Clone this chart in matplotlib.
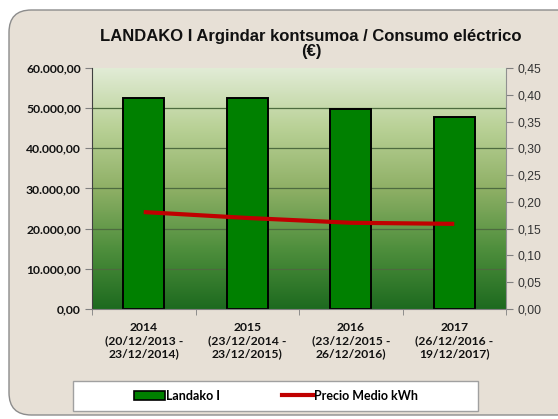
import matplotlib
matplotlib.use("Agg")
import matplotlib.pyplot as plt
import numpy as np
from matplotlib.colors import LinearSegmentedColormap
from matplotlib.patches import FancyBboxPatch, Patch, Rectangle
from matplotlib.lines import Line2D

categories = ["2014\n(20/12/2013 -\n23/12/2014)",
              "2015\n(23/12/2014 -\n23/12/2015)",
              "2016\n(23/12/2015 -\n26/12/2016)",
              "2017\n(26/12/2016 -\n19/12/2017)"]
consumo = [52500, 52650, 49750, 47850]
precio = [0.181, 0.170, 0.161, 0.159]
left_ticks = [0, 10000, 20000, 30000, 40000, 50000, 60000]
left_labels = ["0,00", "10.000,00", "20.000,00", "30.000,00", "40.000,00", "50.000,00", "60.000,00"]
right_ticks = [0.0, 0.05, 0.10, 0.15, 0.20, 0.25, 0.30, 0.35, 0.40, 0.45]
right_labels = ["0,00", "0,05", "0,10", "0,15", "0,20", "0,25", "0,30", "0,35", "0,40", "0,45"]
title = "LANDAKO I Argindar kontsumoa / Consumo eléctrico\n(€)"

W, H = 558, 419
fig = plt.figure(figsize=(W / 100, H / 100), dpi=100)
fig.patch.set_facecolor("white")

# rounded beige background
bg = FancyBboxPatch((9 / W, 4 / H), 600 / W, 405 / H,
                    boxstyle="round,pad=0,rounding_size=0.04",
                    transform=fig.transFigure, facecolor="#e7e0d6",
                    edgecolor="#8c8c8c", linewidth=1.0, zorder=0,
                    mutation_aspect=W / H)
fig.patches.append(bg)

ax = fig.add_axes([92 / W, (H - 309) / H, 414 / W, 241 / H])
ax.set_zorder(1)
ax.set_xlim(-0.5, 3.5)
ax.set_ylim(0, 60000)

cmap = LinearSegmentedColormap.from_list(
    "g", ["#1d6a1f", "#4f8f3d", "#8fb066", "#b9d196", "#e2ecd7"])
grad = np.linspace(0, 1, 256).reshape(-1, 1)
ax.imshow(grad, extent=(-0.5, 3.5, 0, 60000), origin="lower", aspect="auto",
          cmap=cmap, zorder=0, interpolation="bicubic")
ax.set_xlim(-0.5, 3.5)
ax.set_ylim(0, 60000)

for t in left_ticks[1:-1]:
    ax.axhline(t, color="#4d6b3f", linewidth=0.9, zorder=1)

x = np.arange(len(categories))
ax.bar(x, consumo, width=0.4, color="#008000", edgecolor="black",
       linewidth=1.4, zorder=2)

ax.set_yticks(left_ticks)
ax.set_yticklabels(left_labels, fontfamily="Lato", fontweight="bold",
                   fontsize=8.7, color="#111111")
ax.set_xticks(x)
ax.set_xticklabels(categories, fontfamily="Lato", fontweight="bold",
                   fontsize=8.7, color="#111111", linespacing=1.25)
ax.set_xticks(np.arange(-0.5, 4.0, 1.0), minor=True)
ax.tick_params(axis="x", which="major", length=0, pad=9)
ax.tick_params(axis="x", which="minor", length=4, color="#808080", direction="out")
ax.tick_params(axis="y", length=5, color="#808080", direction="out", pad=3)
for s in ["top", "right"]:
    ax.spines[s].set_visible(False)
ax.spines["left"].set_color("#404040")
ax.spines["bottom"].set_color("#808080")

ax2 = ax.twinx()
ax2.set_ylim(0, 0.45)
ax2.plot(x, precio, color="#c00000", linewidth=3, zorder=3,
         solid_capstyle="butt")
ax2.set_yticks(right_ticks)
ax2.set_yticklabels(right_labels, fontfamily="Liberation Sans",
                    fontsize=8.7, color="#333333")
ax2.tick_params(axis="y", length=5, color="#808080", direction="out", pad=3)
for s in ["top", "left", "bottom"]:
    ax2.spines[s].set_visible(False)
ax2.spines["right"].set_color("#909090")

fig.text(311 / W, 1 - 44 / H, title, ha="center", va="center",
         fontfamily="Liberation Sans", fontweight="bold", fontsize=12,
         color="#111111", linespacing=1.05)

# legend box
fig.add_artist(Rectangle((73 / W, (H - 411) / H), 405 / W, 30 / H,
                         transform=fig.transFigure, facecolor="white",
                         edgecolor="#a0a0a0", linewidth=1.0, zorder=5))
handles = [Patch(facecolor="#008000", edgecolor="black", linewidth=1.2),
           Line2D([0], [0], color="#c00000", linewidth=3)]
leg = fig.legend(handles, ["Landako I", "Precio Medio kWh"],
                 loc="center", bbox_to_anchor=(276 / W, 1 - 396 / H),
                 ncol=2, frameon=False,
                 prop={"family": "Lato", "weight": "bold", "size": 9},
                 handlelength=2.5, handleheight=0.8, handletextpad=0.1,
                 columnspacing=4.9, borderpad=0.2)
leg.set_zorder(6)

fig.savefig("out.png", dpi=100, facecolor=fig.get_facecolor())
